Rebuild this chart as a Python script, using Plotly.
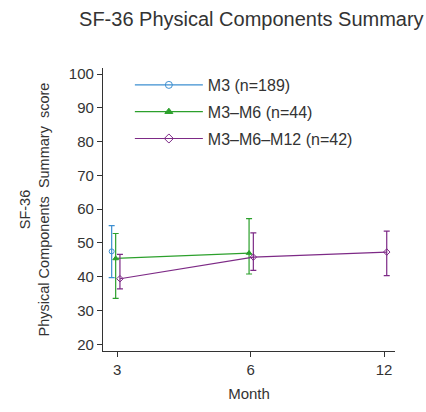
import plotly.graph_objects as go

# ---- data ----
months = ["3", "6", "12"]
series_names = ["M3 (n=189)", "M3–M6 (n=44)", "M3–M6–M12 (n=42)"]

m3_idx = [0]
m3_mean = [47.5]
m3_lo = [39.7]
m3_hi = [55.1]

m36_idx = [0, 1]
m36_mean = [45.4, 47.0]
m36_lo = [33.6, 40.8]
m36_hi = [52.8, 57.2]

m3612_idx = [0, 1, 2]
m3612_mean = [39.4, 45.8, 47.3]
m3612_lo = [36.4, 41.9, 40.3]
m3612_hi = [46.6, 53.0, 53.5]

# ---- styling ----
colors = ["#3d8fd1", "#2ca02c", "#7d2a86"]
symbols = ["circle-open", "triangle-up", "diamond-open"]
dodge = [-0.042, -0.012, 0.02]
FONT = "Liberation Sans, Arial, sans-serif"
TXT = "#333"

fig = go.Figure()
data = [
    (m3_idx, m3_mean, m3_lo, m3_hi),
    (m36_idx, m36_mean, m36_lo, m36_hi),
    (m3612_idx, m3612_mean, m3612_lo, m3612_hi),
]
for k, (idx, mean, lo, hi) in enumerate(data):
    xs = [i + dodge[k] for i in idx]
    fig.add_trace(go.Scatter(
        x=xs, y=mean, mode="lines+markers",
        line=dict(color=colors[k], width=1.2),
        marker=dict(symbol=symbols[k], size=5, color=colors[k],
                    line=dict(color=colors[k], width=1)),
        error_y=dict(type="data", symmetric=False,
                     array=[h - m for h, m in zip(hi, mean)],
                     arrayminus=[m - l for m, l in zip(mean, lo)],
                     color=colors[k], thickness=1.2, width=3),
        showlegend=False,
    ))

for k in range(3):
    fig.add_trace(go.Scatter(
        x=[None], y=[None], mode="lines+markers", name=series_names[k],
        legendgroup=str(k),
        line=dict(color=colors[k], width=1.2),
        marker=dict(symbol=symbols[k], size=7, color=colors[k],
                    line=dict(color=colors[k], width=1)),
    ))

fig.update_layout(
    width=426, height=412,
    margin=dict(l=103, r=31, t=68, b=55),
    paper_bgcolor="white", plot_bgcolor="white",
    font=dict(family=FONT, size=15, color=TXT),
    title=dict(text="SF-36 Physical Components Summary", x=0.59, xanchor="center",
               y=0.955, yanchor="middle", font=dict(size=20, color=TXT)),
    showlegend=True,
    legend=dict(x=0.092, y=1.0, xanchor="left", yanchor="top",
                bgcolor="rgba(0,0,0,0)", font=dict(size=16, color=TXT),
                tracegroupgap=3, itemwidth=68),
    xaxis=dict(range=[-0.107, 2.082], tickvals=[0, 1, 2], ticktext=months,
               showgrid=False, zeroline=False, showline=True, linecolor="#333",
               linewidth=1.2, ticks="outside", ticklen=5, tickcolor="#333",
               title=dict(text="Month", standoff=11, font=dict(size=15)),
               tickfont=dict(size=15)),
    yaxis=dict(range=[18, 101.8], tickvals=list(range(20, 101, 10)),
               showgrid=False, zeroline=False, showline=True, linecolor="#333",
               linewidth=1.2, ticks="outside", ticklen=5, tickcolor="#333",
               title=dict(text="SF-36<br>Physical Components  Summary  score",
                          standoff=15, font=dict(size=14.5)),
               tickfont=dict(size=15)),
)

fig.write_html("out.html")
